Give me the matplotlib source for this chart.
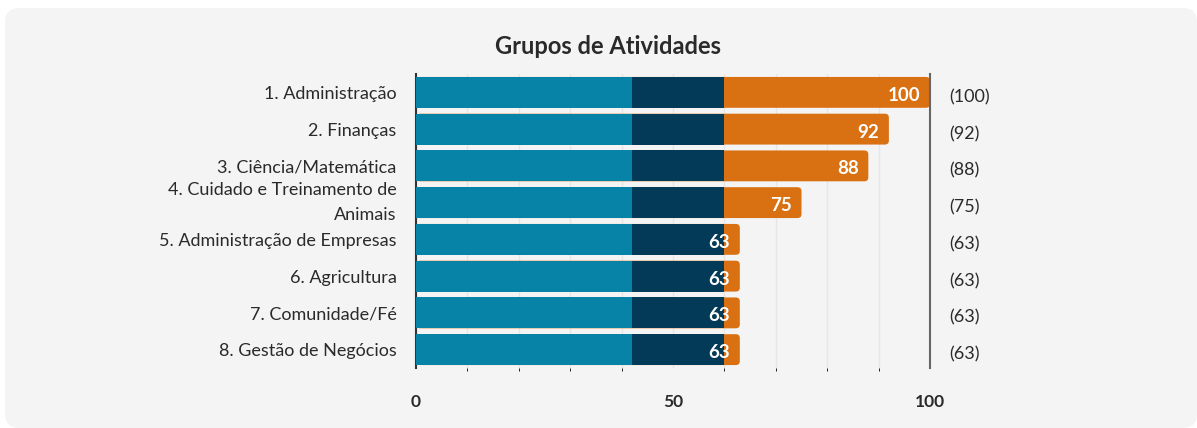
import matplotlib.pyplot as plt
from matplotlib.patches import FancyBboxPatch

plt.rcParams['font.family'] = ['Lato', 'DejaVu Sans']

categories = ['1. Administração', '2. Finanças', '3. Ciência/Matemática',
              '4. Cuidado e Treinamento de\nAnimais', '5. Administração de Empresas',
              '6. Agricultura', '7. Comunidade/Fé', '8. Gestão de Negócios']
values = [100, 92, 88, 75, 63, 63, 63, 63]
band_low = 42    # teal segment end
band_mid = 60    # navy segment end
xticks = [0, 50, 100]

teal = '#0683a6'
navy = '#033a57'
orange = '#d97012'
bg = '#f4f4f4'
text_col = '#2a2a2a'

fig = plt.figure(figsize=(11.97, 4.28), dpi=100)
fig.patch.set_facecolor('white')
panel = FancyBboxPatch((5 / 1197, 0), 1 - 5 / 1197, 1 - 8 / 428,
                       boxstyle='round,pad=0,rounding_size=0.012',
                       transform=fig.transFigure, facecolor=bg, edgecolor='none',
                       mutation_aspect=1197 / 428, zorder=-10)
fig.patches.append(panel)

ax = fig.add_axes([416 / 1197, 1 - 368 / 428, (930 - 416) / 1197, (368 - 74) / 428])
ax.set_facecolor(bg)

n = len(categories)
ys = list(range(n))
h = 0.84

# orange full bars with rounded right end, then overlay navy and teal
for y, v in zip(ys, values):
    p = FancyBboxPatch((0, y - h / 2), v, h,
                       boxstyle='round,pad=0,rounding_size=0.8',
                       mutation_aspect=0.135, facecolor=orange, edgecolor='none', zorder=2)
    ax.add_patch(p)
ax.barh(ys, [band_mid] * n, height=h, color=navy, zorder=3)
ax.barh(ys, [band_low] * n, height=h, color=teal, zorder=4)

for y, v in zip(ys, values):
    ax.annotate(str(v), (v, y), xytext=(-7, -1), textcoords='offset points',
                ha='right', va='center_baseline', color='white', fontsize=13.5,
                fontweight='bold', zorder=6)
    ax.annotate('(%d)' % v, (1.0, y), xycoords=('axes fraction', 'data'),
                xytext=(14, -2.5), textcoords='offset points', ha='left', va='center_baseline',
                color=text_col, fontsize=13)

ax.set_xlim(0, 100)
ax.set_ylim(n - 0.5, -0.5)
ax.set_yticks(ys)
ax.set_yticklabels(categories, fontsize=13, color=text_col)
for lbl in ax.get_yticklabels():
    if '\n' in lbl.get_text():
        lbl.set_multialignment('right')
        lbl.set_linespacing(1.75)
        lbl.set_verticalalignment('center')
ax.set_xticks(xticks)
ax.set_xticklabels([str(t) for t in xticks], fontsize=12.5, fontweight='bold', color=text_col)
ax.set_xticks(range(0, 101, 10), minor=True)
ax.grid(axis='x', which='both', color='#e6e6e6', linewidth=1, zorder=1)
ax.set_axisbelow(True)
ax.tick_params(axis='both', length=0)
ax.tick_params(axis='y', pad=14)
ax.tick_params(axis='x', pad=19)
for s in ['top', 'bottom']:
    ax.spines[s].set_visible(False)
ax.spines['left'].set_color('#333333')
ax.spines['left'].set_linewidth(1.5)
ax.spines['right'].set_color('#666666')
ax.spines['right'].set_linewidth(1.5)

fig.text(608 / 1197, 1 - 46 / 428, 'Grupos de Atividades', ha='center', va='center',
         fontsize=17, fontweight='bold', color=text_col)

fig.savefig('out.png', dpi=100, facecolor=fig.get_facecolor())
